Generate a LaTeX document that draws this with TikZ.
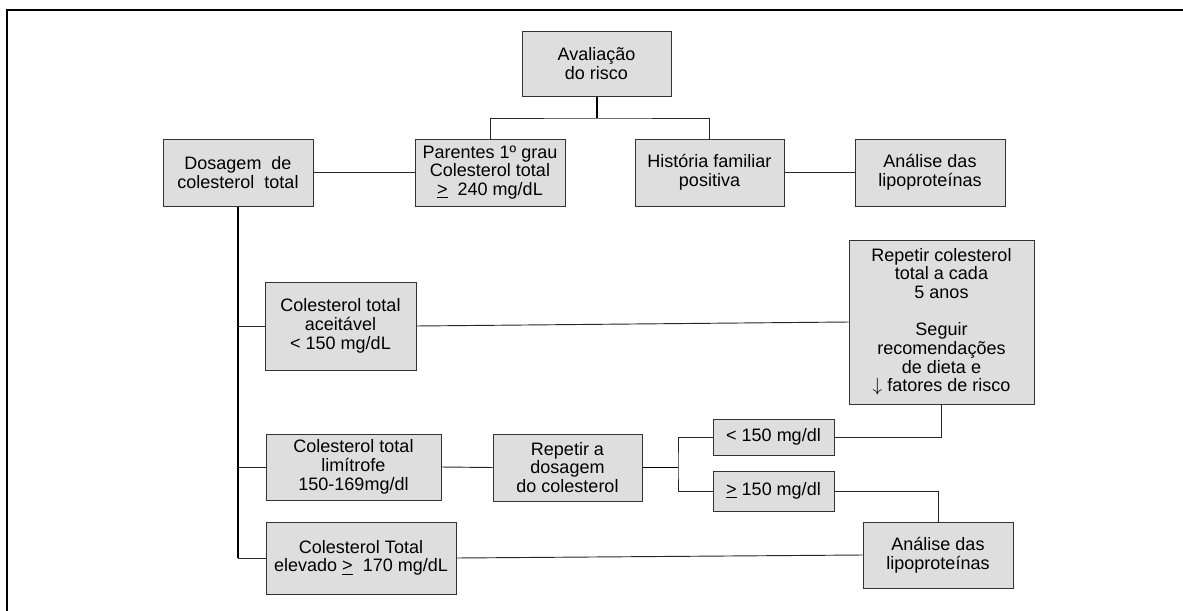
\documentclass[tikz,border=0pt]{standalone}
\usepackage{fontspec}
\setmainfont{Liberation Sans}
\tikzset{
  box/.style 2 args={draw=black!80, fill=black!13, line width=0.75pt, align=center,
    inner sep=0pt, minimum width=#1*0.75pt, minimum height=#2*0.75pt,
    font=\fontsize{13.5}{14}\selectfont},
  link/.style={draw=black!85, line width=0.7pt},
  stem/.style={draw=black, line width=1.5pt}
}
\newcommand{\maiorig}{\underline{>}}

\begin{document}
\begin{tikzpicture}[x=0.75pt, y=-0.75pt]
		%%%%% START %%%%%
		\useasboundingbox (0,0) rectangle (1183,611);
		\draw[line width=1pt] (1183,10) -- (7,10) -- (7,611);
		
		\node[box={149}{65}] (aval) at (596.5,63.5) {Avaliação\\do risco};
		\node[box={150}{67}] (dosa) at (238,172.5) {Dosagem\ \ de\\colesterol\ \ total};
		\node[box={150}{67}] (pare) at (490,172.5) {Parentes 1º grau\\Colesterol total\\\maiorig\ \ 240 mg/dL};
		\node[box={149}{67}] (hist) at (709.5,172.5) {História familiar\\positiva};
		\node[box={150}{67}] (lipo) at (930,172.5) {Análise das\\lipoproteínas};
		
		\node[box={151}{88}] (acei) at (340.5,326) {Colesterol total\\aceitável\\< 150 mg/dL};
		\node[box={185}{164}] (cinco) at (941.5,322) {Repetir colesterol\\total a cada\\5 anos\\[14pt]Seguir\\recomendações\\de dieta e\\$\downarrow$ fatores de risco};
		
		\node[box={175}{66}] (limi) at (353.5,467) {Colesterol total\\limítrofe\\150-169mg/dl};
		\node[box={149}{67}] (redo) at (567.5,467.5) {Repetir a\\dosagem\\do colesterol};
		\node[box={121}{36}] (menor) at (773.5,437) {< 150 mg/dl};
		\node[box={121}{40}] (maior) at (773.5,491) {\maiorig\ 150 mg/dl};
		
		\node[box={190}{72}] (elev) at (361,558) {Colesterol Total\\elevado \maiorig\ \ 170 mg/dL};
		\node[box={150}{66}] (lipob) at (938,555) {Análise das\\lipoproteínas};
		
		% topo
		\coordinate (bus) at (596.5,118);
		\draw[stem] (aval.south) -- (bus);
		\draw[link] (pare.north) |- (bus) -| (hist.north);
		\draw[link] (dosa.east) -- (pare.west);
		\draw[link] (hist.east) -- (lipo.west);
		
		% tronco da dosagem
		\coordinate (fim) at (dosa.south |- elev.west);
		\draw[stem] (dosa.south) -- (fim);
		\draw[link] (dosa.south |- acei.west) -- (acei.west);
		\draw[link] (dosa.south |- limi.west) -- (limi.west);
		\draw[link] (fim) -- (elev.west);
		
		\draw[link] (acei.east) -- (cinco.west);
		\draw[link] (limi.east) -- (redo.west);
		\coordinate (jdos) at (678,467.5);
		\draw[stem, line width=1.2pt] (redo.east) -- (jdos);
		\draw[link] (menor.west) -| (jdos) |- (maior.west);
		\draw[link] (menor.east) -| (cinco.south);
		\draw[link] (maior.east) -| (lipob.north);
		\draw[link] (elev.east) -- (lipob.west);
		%%%%% END %%%%%
\end{tikzpicture}
\end{document}
